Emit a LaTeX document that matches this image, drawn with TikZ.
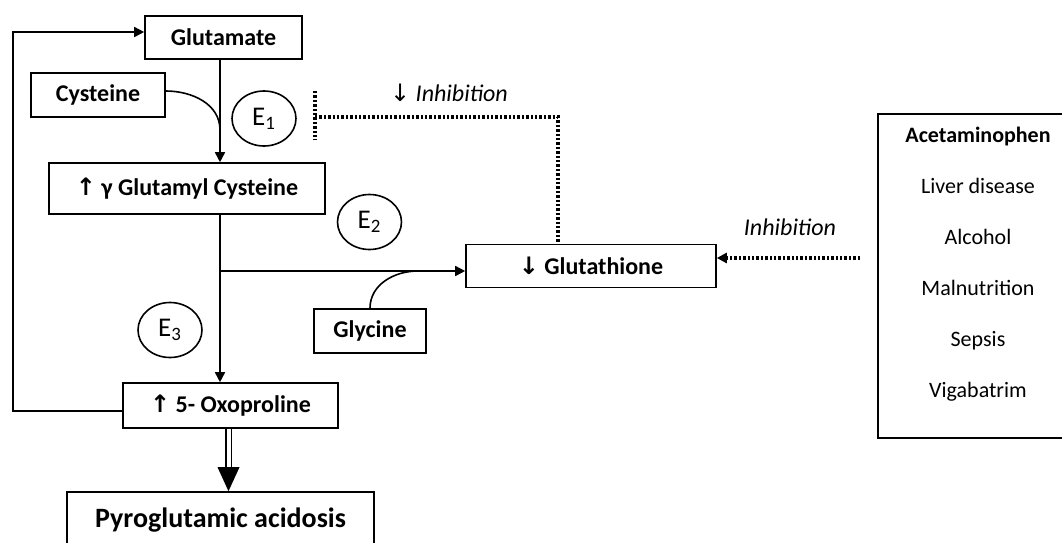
\documentclass[tikz,border=0pt]{standalone}
\usepackage{fontspec}
\setmainfont{Carlito}
\newfontfamily\arrowfont{DejaVu Sans}
\newcommand{\up}{{\arrowfont ↑}}
\newcommand{\down}{{\arrowfont ↓}}
\usetikzlibrary{arrows.meta,shapes.geometric}

\begin{document}
\begin{tikzpicture}[x=0.5pt,y=-0.5pt,line width=0.8pt,
  box/.style={draw,rectangle,inner sep=0pt,font=\fontsize{12}{14}\selectfont\bfseries},
  enz/.style={draw,ellipse,minimum width=32pt,minimum height=27.5pt,inner sep=0pt,font=\fontsize{13.5}{15}\selectfont},
  arr/.style={-{Triangle[length=5pt,width=5pt]}},
  dotline/.style={line width=1.6pt,dash pattern=on 1.2pt off 1pt},
  note/.style={font=\fontsize{12}{14}\selectfont\itshape}]
\useasboundingbox (0,0) rectangle (1062,542);
\clip (0,0) rectangle (1062,542);
% boxes
\node[box,minimum width=78.5pt,minimum height=21.5pt] (glu) at (223.5,37.5) {Glutamate};
\node[box,minimum width=67pt,minimum height=22pt] (cys) at (98,95) {Cysteine};
\node[box,minimum width=138pt,minimum height=25.5pt] (gam) at (187,188.5) {\up\ γ Glutamyl Cysteine};
\node[box,minimum width=125pt,minimum height=21.5pt] (glt) at (591,266) {\down\ Glutathione};
\node[box,minimum width=56pt,minimum height=22pt] (gly) at (370,331) {Glycine};
\node[box,minimum width=107.5pt,minimum height=22.5pt] (oxo) at (230.5,405.5) {\up\ 5- Oxoproline};
\node[box,minimum width=153.5pt,minimum height=28pt,font=\fontsize{14}{16}\selectfont\bfseries] (pyro) at (220.5,520) {Pyroglutamic acidosis};
% enzymes
\node[enz] (e1) at (264,118.5) {E\textsubscript{1}};
\node[enz] (e2) at (369.5,222) {E\textsubscript{2}};
\node[enz] (e3) at (170,330) {E\textsubscript{3}};
% causes
\node[draw,minimum width=100pt,minimum height=162pt] (causebox) at (978,276) {};
\node[align=center,font=\fontsize{11}{25.5}\selectfont] (causes) at (978,264)
  {\textbf{Acetaminophen}\\Liver disease\\Alcohol\\Malnutrition\\Sepsis\\Vigabatrim};
\node[note] (inh1) at (449,93) {{\upshape\down}\ Inhibition};
\node[note] (inh2) at (790,227) {Inhibition};
% helper points
\coordinate (spine) at (220,0);
\coordinate (join1) at (220,130);
\coordinate (fork) at (220,271);
\coordinate (join2) at (418,271);
\coordinate (loop) at (13,0);
\coordinate (dbl) at (228.5,0);
\coordinate (barT) at (315,91);
\coordinate (barB) at (315,140);
\coordinate (bar) at (315,117);
\coordinate (inhx) at (558,0);
\coordinate (inhs) at (860,258);
\coordinate (oxoout) at ([yshift=-2.75pt]oxo.west);
\coordinate (gluin) at ([yshift=2.75pt]glu.west);
% pathway
\draw[arr] (glu.south -| spine) -- (gam.north -| spine);
\draw ([yshift=2pt]cys.east) to[out=0,in=90] (join1);
\draw[arr] (gam.south -| spine) -- (oxo.north -| spine);
\draw[arr] (fork) -- (glt.west |- fork);
\draw (gly.north) to[out=90,in=180] (join2);
\draw[arr] (oxoout) -- (oxoout -| loop) |- (gluin);
\draw[double,double distance=2pt,shorten >=11pt] (oxo.south -| dbl) -- (pyro.north -| dbl);
\fill (pyro.north -| dbl) -- ++(-5.5pt,12pt) -- ++(11pt,0) -- cycle;
% inhibition
\draw[dotline] (barT) -- (barB);
\draw[dotline] (bar) -| (inhx |- glt.north);
\draw[dotline,-{Triangle[length=5pt,width=5pt]}] (inhs) -- ([yshift=4pt]glt.east);
\end{tikzpicture}
\end{document}
